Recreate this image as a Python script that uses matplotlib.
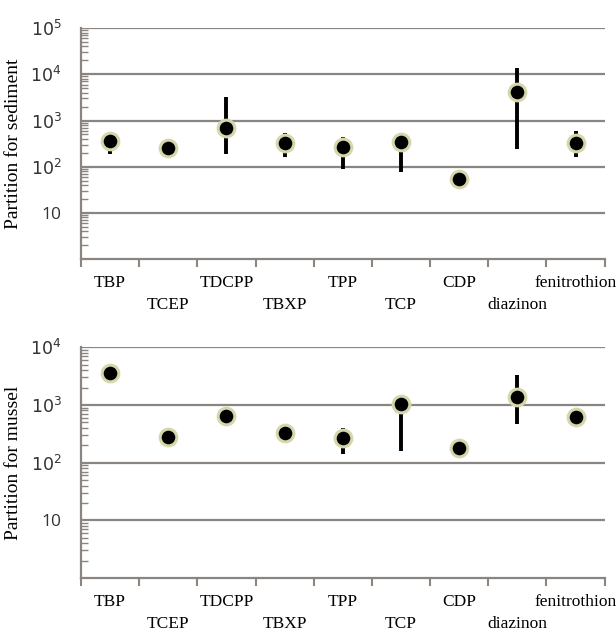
import numpy as np
import matplotlib.pyplot as plt
from matplotlib.ticker import FixedLocator, LogLocator, NullFormatter

compounds = ["TBP", "TCEP", "TDCPP", "TBXP", "TPP", "TCP", "CDP", "diazinon", "fenitrothion"]

sed_val = [368, 257, 705, 330, 270, 350, 55, 4050, 330]
sed_low = [190, 165, 190, 165, 90, 78, 45, 245, 165]
sed_high = [550, 300, 3300, 550, 430, 350, 62, 14000, 580]

mus_val = [3550, 275, 640, 325, 265, 1030, 178, 1350, 610]
mus_low = [2600, 260, 465, 310, 140, 160, 170, 465, 590]
mus_high = [4000, 290, 920, 340, 400, 1030, 185, 3300, 630]

grey = "#8a8580"
serif = "Liberation Serif"


def panel(ax, val, low, high, ymax, ylabel):
    x = np.arange(len(compounds))
    val = np.array(val)
    yerr = [val - np.array(low), np.array(high) - val]
    ax.errorbar(x, val, yerr=yerr, fmt="none", ecolor="black", elinewidth=2.8, capsize=0, zorder=3)
    ax.plot(x, val, "o", ms=12, mfc="black", mec="#d6d6ac", mew=2.2, zorder=4)
    ax.set_yscale("log")
    ax.set_ylim(1, ymax)
    ax.set_xlim(-0.5, len(compounds) - 0.5)

    decades = [10 ** k for k in range(1, int(np.log10(ymax)) + 1)]
    for d in decades:
        ax.axhline(d, color=grey, lw=1.6, zorder=1)
    ax.yaxis.set_major_locator(FixedLocator(decades))
    ax.set_yticklabels(["10"] + ["$10^{%d}$" % k for k in range(2, len(decades) + 1)],
                       fontsize=12.5, family="Open Sans", color="#333333")
    ax.yaxis.set_minor_locator(LogLocator(base=10, subs=np.arange(2, 10)))
    ax.yaxis.set_minor_formatter(NullFormatter())
    ax.tick_params(axis="y", which="major", length=0, pad=14)
    ax.tick_params(axis="y", which="minor", direction="in", length=5, color=grey, width=1)

    # category labels, staggered over two rows
    ax.set_xticks([])
    for i, c in enumerate(compounds):
        dy = -17 if i % 2 == 0 else -33
        ax.annotate(c, (i, 0), xycoords=("data", "axes fraction"), xytext=(0, dy),
                    textcoords="offset points", ha="center", va="center",
                    fontsize=12.5, family=serif)
    ax.set_xticks(np.arange(len(compounds) + 1) - 0.5, minor=True)
    ax.tick_params(axis="x", which="minor", length=6, width=1.5, color=grey)

    for s in ["top", "right"]:
        ax.spines[s].set_visible(False)
    for s in ["left", "bottom"]:
        ax.spines[s].set_color(grey)
        ax.spines[s].set_linewidth(1.6)
    ax.set_ylabel(ylabel, fontsize=14, family=serif, labelpad=6)


fig = plt.figure(figsize=(6.16, 6.37), dpi=100)
ax1 = fig.add_axes([0.1315, 0.593, 0.85, 0.363])
ax2 = fig.add_axes([0.1315, 0.0926, 0.85, 0.3624])

panel(ax1, sed_val, sed_low, sed_high, 1e5, "Partition for sediment")
panel(ax2, mus_val, mus_low, mus_high, 1e4, "Partition for mussel")

fig.savefig("out.png", dpi=100)
